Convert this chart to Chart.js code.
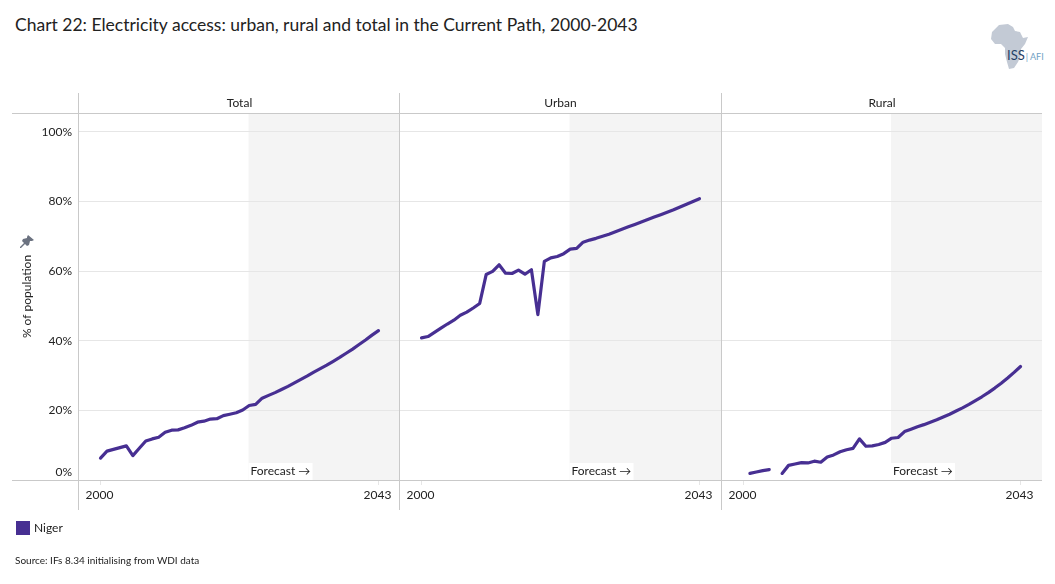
<!DOCTYPE html>
<html>
<head>
<meta charset="utf-8">
<title>Chart 22</title>
<script src="https://cdn.jsdelivr.net/npm/chart.js@4"></script>
<style>
  body { margin: 0; background: #fff; font-family: Lato, sans-serif; color: #222; }
  #page { position: relative; width: 1055px; height: 584px; overflow: hidden; }
  canvas { position: absolute; top: 93px; }
  #title { position: absolute; left: 15px; top: 14px; font-size: 17.5px; white-space: nowrap; }
  #pin { position: absolute; left: 20px; top: 235px; }
  #logo { position: absolute; left: 990px; top: 24px; }
  #logoText { position: absolute; left: 1007px; top: 47px; font-size: 13px; white-space: nowrap; color: #1f3f66; }
  #logoText span { font-size: 9px; color: #6f9fc4; margin-left: 1px; }
  #swatch { position: absolute; left: 16px; top: 521px; width: 14px; height: 14px; background: #472f92; }
  #legend { position: absolute; left: 34px; top: 520px; font-size: 12px; }
  #source { position: absolute; left: 15px; top: 554px; font-size: 10px; }
</style>
</head>
<body>
<div id="page">
  <div id="title">Chart 22: Electricity access: urban, rural and total in the Current Path, 2000-2043</div>

  <svg id="logo" width="40" height="48" viewBox="0 0 40 48">
    <path fill="#c3cad5" d="M9 1 L18 0 L23 3 L25 7 L30 8 L33 14 L38 13 L35 20 L31 25 L31 31 L28 38 L24 44 L19 45 L17 38 L15 30 L15 24 L11 20 L5 20 L1 15 L2 8 Z"/>
  </svg>
  <div id="logoText">ISS<span>| AFI</span></div>

  <canvas id="chartTotal" width="400" height="417" style="left:0"></canvas>
  <canvas id="chartUrban" width="322" height="417" style="left:399px"></canvas>
  <canvas id="chartRural" width="321" height="417" style="left:721px"></canvas>

  <svg id="pin" width="14" height="14" viewBox="0 0 14 14">
    <path fill="#6b7280" d="M8 0 L14 5 L12 6 L10 6 L9 10 L7 11 L5 9 L1 13 L0 13 L0 12 L4 8 L2 6 L3 4 L7 3 L7 2 Z"/>
  </svg>

  <div id="swatch"></div>
  <div id="legend">Niger</div>
  <div id="source">Source: IFs 8.34 initialising from WDI data</div>
</div>

<script>
// datos, un valor por año (2000-2043)
const years = [2000,2001,2002,2003,2004,2005,2006,2007,2008,2009,2010,2011,2012,2013,2014,2015,2016,2017,2018,2019,2020,2021,
               2022,2023,2024,2025,2026,2027,2028,2029,2030,2031,2032,2033,2034,2035,2036,2037,2038,2039,2040,2041,2042,2043];
const totalValues = [6.3,8.3,8.8,9.3,9.8,7.0,9.1,11.2,11.8,12.3,13.7,14.3,14.4,15.0,15.7,16.6,16.9,17.5,17.6,18.5,18.9,19.3,
                     20.1,21.4,21.7,23.5,24.3,25.1,26.0,26.9,27.9,28.9,29.9,31.0,32.0,33.0,34.1,35.2,36.4,37.6,38.9,40.2,41.6,42.9];
const urbanValues = [40.8,41.2,42.4,43.6,44.8,45.9,47.3,48.2,49.4,50.7,59.0,59.9,61.8,59.4,59.3,60.3,59.1,60.4,47.5,62.8,63.8,64.2,
                     65.0,66.3,66.5,68.3,68.9,69.4,70.0,70.6,71.3,72.0,72.7,73.4,74.1,74.8,75.5,76.2,76.9,77.6,78.4,79.2,80.0,80.8];
const ruralValues = [null,1.9,2.3,2.7,3.0,null,1.9,4.2,4.6,5.0,4.9,5.4,5.1,6.6,7.2,8.1,8.7,9.1,11.8,9.7,9.8,10.2,
                     10.8,12.0,12.2,13.9,14.6,15.3,15.9,16.6,17.3,18.1,18.9,19.8,20.7,21.7,22.8,23.9,25.1,26.4,27.8,29.3,30.9,32.6];
const xTickYears = [2000, 2043];
const yTicks = [0, 20, 40, 60, 80, 100];
const forecastStart = 2022.9;

const fontName = 'Lato, sans-serif';
const lineColor = '#472f92';
const frameColor = '#c9c9c9';

// banda gris de la proyeccion, por debajo de la rejilla
const forecastBand = {
    id: 'forecastBand',
    beforeDraw(chart) {
        const { ctx, chartArea, scales } = chart;
        const x0 = scales.x.getPixelForValue(forecastStart);
        ctx.save();
        ctx.fillStyle = '#f4f4f4';
        ctx.fillRect(x0, chartArea.top, chartArea.right - x0, chartArea.bottom - chartArea.top);
        ctx.restore();
    }
};

// marco del panel, titulo del panel y etiqueta Forecast
const panelFrame = {
    id: 'panelFrame',
    afterDraw(chart, args, opts) {
        const { ctx, chartArea, scales } = chart;
        const leftEdge = opts.first ? 12 : chartArea.left;
        const vx = Math.round(chartArea.left) - 0.5;
        ctx.save();
        ctx.strokeStyle = frameColor;
        ctx.lineWidth = 1;
        ctx.beginPath();
        ctx.moveTo(vx, 0);
        ctx.lineTo(vx, chart.height);
        ctx.moveTo(leftEdge, chartArea.top + 0.5);
        ctx.lineTo(chartArea.right, chartArea.top + 0.5);
        ctx.moveTo(leftEdge, chartArea.bottom + 0.5);
        ctx.lineTo(chartArea.right, chartArea.bottom + 0.5);
        ctx.stroke();

        ctx.fillStyle = '#222';
        ctx.font = '12px ' + fontName;
        ctx.textAlign = 'center';
        ctx.textBaseline = 'middle';
        ctx.fillText(opts.label, (chartArea.left + chartArea.right) / 2, 10);

        // Forecast con fondo blanco
        const fx = scales.x.getPixelForValue(forecastStart);
        ctx.fillStyle = '#fff';
        ctx.fillRect(fx, chartArea.bottom - 17, 64, 17);
        ctx.fillStyle = '#222';
        ctx.textAlign = 'left';
        ctx.fillText('Forecast \u2192', fx + 2, chartArea.bottom - 9);

        // la etiqueta 0% va un poco mas arriba que la linea
        if (opts.first) {
            const y0 = scales.y.getPixelForValue(0);
            ctx.textAlign = 'right';
            ctx.fillText('0%', chartArea.left - 7, y0 - 8);
        }
        ctx.restore();
    }
};

function makeChart(id, label, values, first) {
    return new Chart(document.getElementById(id).getContext('2d'), {
        type: 'line',
        data: {
            labels: years,
            datasets: [{
                label: 'Niger',
                data: years.map((y, i) => ({ x: y, y: values[i] })),
                borderColor: lineColor,
                borderWidth: 3.2,
                borderCapStyle: 'round',
                borderJoinStyle: 'round',
                pointRadius: 0,
                tension: 0,
                spanGaps: false
            }]
        },
        plugins: [forecastBand, panelFrame],
        options: {
            responsive: false,
            animation: false,
            layout: { padding: { top: 20, left: 0, right: 0, bottom: 0 } },
            plugins: {
                legend: { display: false },
                title: { display: false },
                tooltip: { enabled: false },
                panelFrame: { label: label, first: first }
            },
            scales: {
                x: {
                    type: 'linear',
                    min: 1996.67,
                    max: 2046.33,
                    afterBuildTicks: scale => { scale.ticks = xTickYears.map(v => ({ value: v })); },
                    afterFit: scale => { scale.height = 30; },
                    grid: { drawOnChartArea: false, tickLength: 5, color: '#e6e6e6' },
                    border: { display: false },
                    ticks: {
                        autoSkip: false,
                        maxRotation: 0,
                        padding: 3,
                        labelOffset: -1,
                        color: '#222',
                        font: { family: fontName, size: 12 },
                        callback: v => String(v)
                    }
                },
                y: {
                    min: 0,
                    max: 105.4,
                    afterBuildTicks: scale => { scale.ticks = yTicks.map(v => ({ value: v })); },
                    afterFit: scale => { scale.width = first ? 79 : 1; },
                    grid: { color: '#e6e6e6', drawTicks: false },
                    border: { display: false },
                    title: {
                        display: first,
                        text: '% of population',
                        color: '#222',
                        font: { family: fontName, size: 12 },
                        padding: { top: 20, bottom: 0 }
                    },
                    ticks: {
                        display: first,
                        padding: 7,
                        color: '#222',
                        font: { family: fontName, size: 12 },
                        callback: v => (v === 0 ? '' : v + '%')
                    }
                }
            }
        }
    });
}

makeChart('chartTotal', 'Total', totalValues, true);
makeChart('chartUrban', 'Urban', urbanValues, false);
makeChart('chartRural', 'Rural', ruralValues, false);
</script>
</body>
</html>
